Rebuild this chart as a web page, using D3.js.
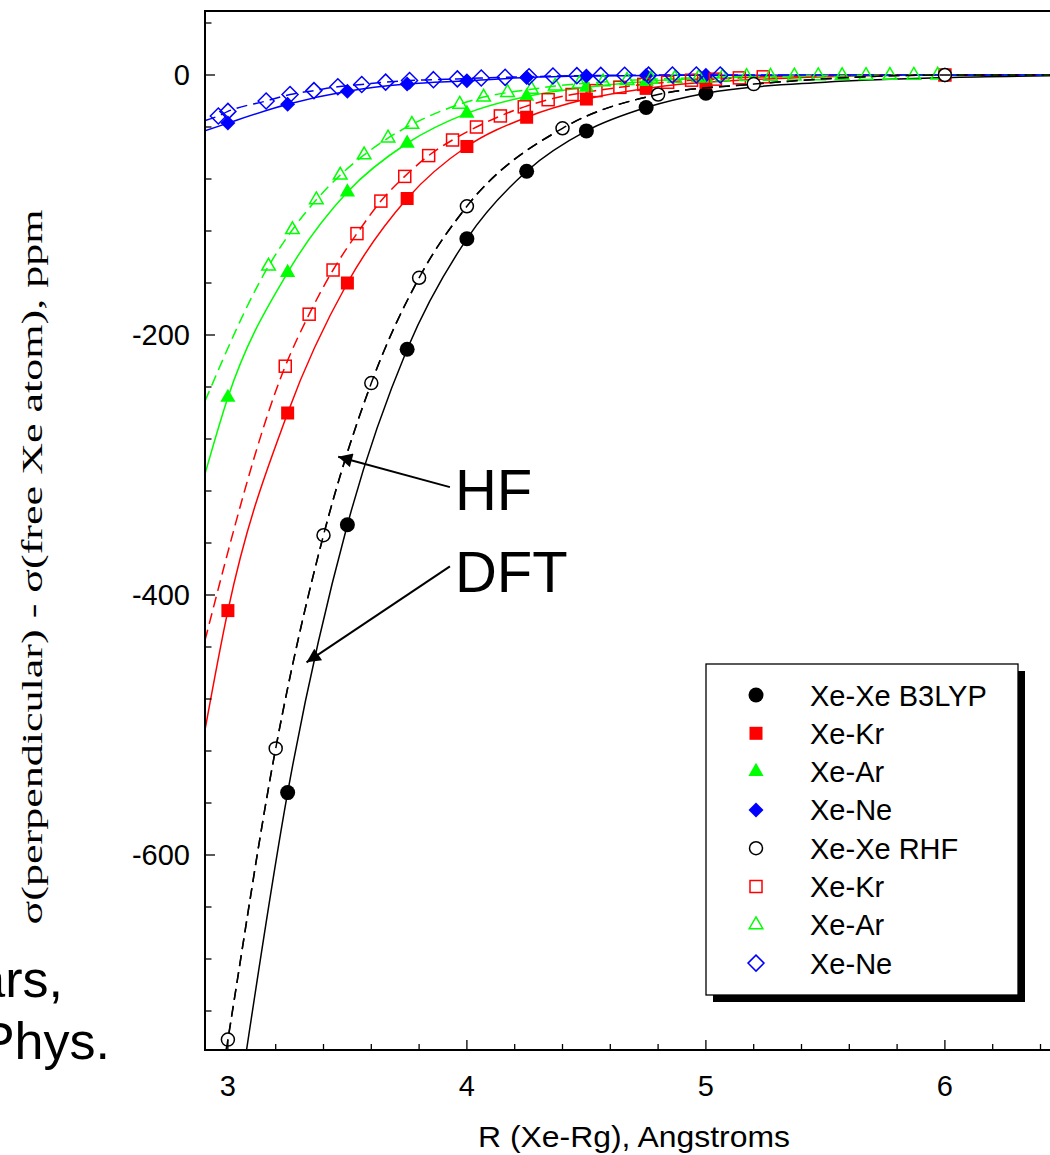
<!DOCTYPE html>
<html><head><meta charset="utf-8">
<script src="https://cdn.jsdelivr.net/npm/d3@7"></script>
<style>body{margin:0;background:#fff}svg{display:block}</style>
</head><body>
<svg id="c" width="1050" height="1155"></svg>
<script>
// ---------- data (R in Angstrom, shielding difference in ppm) ----------
const xeB3R   = [3.25, 3.5, 3.75, 4.0, 4.25, 4.5, 4.75, 5.0];
const xeB3V   = [-552, -346, -211, -126, -74, -43, -25, -14];
const krB3R   = [3.0, 3.25, 3.5, 3.75, 4.0, 4.25, 4.5, 4.75, 5.0];
const krB3V   = [-412, -260, -160, -95, -55, -32.5, -18.5, -10.3, -5.5];
const arB3R   = [3.0, 3.25, 3.5, 3.75, 4.0, 4.25, 4.5, 4.75, 5.0];
const arB3V   = [-248, -152, -90, -52.5, -29.5, -16.5, -9.5, -5, -2.5];
const neB3R   = [3.0, 3.25, 3.5, 3.75, 4.0, 4.25, 4.5, 4.75, 5.0, 6.0];
const neB3V   = [-37, -22.5, -12.5, -7, -4.5, -2, -0.8, -0.4, -0.2, 0];

const xeHFR   = [3.0, 3.2, 3.4, 3.6, 3.8, 4.0, 4.4, 4.8, 5.2, 6.0];
const xeHFV   = [-742, -518, -354, -237, -156, -101, -41, -15, -7, 0];
const krHFR   = [3.24, 3.34, 3.44, 3.54, 3.64, 3.74, 3.84, 3.94, 4.04, 4.14, 4.24, 4.34, 4.44, 4.54, 4.64, 4.74, 4.84, 4.94, 5.04, 5.14, 5.24, 6.0];
const krHFV   = [-224, -184, -150, -122, -97, -78, -62, -50, -40, -31.5, -24.5, -19, -15, -12, -9.5, -7.2, -5.6, -4, -3.2, -2.2, -1.4, 0];
const arHFR   = [3.17, 3.27, 3.37, 3.47, 3.57, 3.67, 3.77, 3.97, 4.07, 4.17, 4.27, 4.37, 4.47, 4.57, 4.67, 4.77, 4.87, 4.97, 5.07, 5.17, 5.27, 5.37, 5.47, 5.57, 5.67, 5.77, 5.87, 5.97];
const arHFV   = [-147, -119, -96, -77, -61.5, -48.5, -38, -22.5, -17, -13.5, -11, -8.5, -6.8, -5.3, -4.2, -3.3, -2.6, -2, -1.5, -1.2, -1, -0.8, -0.6, -0.5, -0.4, -0.3, -0.2, -0.1];
const neHFR   = [2.96, 3.0, 3.16, 3.26, 3.36, 3.46, 3.56, 3.66, 3.76, 3.86, 3.96, 4.06, 4.16, 4.26, 4.36, 4.46, 4.56, 4.66, 4.76, 4.86, 4.96, 5.06];
const neHFV   = [-31.5, -28, -20, -15, -12, -9, -7.3, -5.5, -4.3, -3.6, -3, -2.3, -1.8, -1.3, -0.8, -0.5, -0.3, -0.2, -0.1, 0, 0, 0];

// fitted-curve end pieces (left edge start, right tail)
const xeB3Start = [[3.078, -750]], xeB3Tail = [[5.5, -5.5], [6.0, -2], [6.5, -0.5]];
const krB3Start = [[2.904, -504]], krB3Tail = [[6.0, 0], [6.5, 0]];
const arB3Start = [[2.904, -307]], arB3Tail = [[6.0, 0], [6.5, 0]];
const neB3Start = [[2.904, -43]],  neB3Tail = [[6.5, 0]];
const xeHFStart = [[2.993, -750]], xeHFTail = [[6.5, 0]];
const krHFStart = [[2.904, -435]], krHFTail = [[6.5, 0]];
const arHFStart = [[2.904, -251]], arHFTail = [[6.5, 0]];
const neHFStart = [[2.904, -35]],  neHFTail = [[6.5, 0]];

const xMajor = [3, 4, 5, 6];
const yMajor = [0, -200, -400, -600];
const xTitle = "R (Xe-Rg), Angstroms";
const yTitle = "σ(perpendicular) - σ(free Xe atom), ppm";
const legendLabels = ["Xe-Xe B3LYP", "Xe-Kr", "Xe-Ar", "Xe-Ne", "Xe-Xe RHF", "Xe-Kr", "Xe-Ar", "Xe-Ne"];
// annotations: [label, tail R, tail ppm, tip R, tip ppm, text R, text ppm]
const annotations = [
  ["HF", 3.929, -317, 3.4615, -293.6, 3.95, -334.6],
  ["DFT", 3.929, -378, 3.329, -451.8, 3.95, -397.7]
];
const sideText = ["ars,", "Phys."];

// ---------- drawing ----------
const svg = d3.select("#c");
const x = d3.scaleLinear().domain([2.9, 6.5]).range([204, 1064.4]);
const y = d3.scaleLinear().domain([-750, 50]).range([1050, 10]);
const SANS = "'Liberation Sans', Arial, sans-serif";
const SERIF = "'Liberation Serif', 'Times New Roman', serif";

const RED = "#ff0000", GREEN = "#00ff00", BLUE = "#0000ff", BLACK = "#000";

const series = [
  {R: xeB3R, V: xeB3V, s: xeB3Start, t: xeB3Tail, color: BLACK, dash: null, shape: "circle", fill: true},
  {R: krB3R, V: krB3V, s: krB3Start, t: krB3Tail, color: RED, dash: null, shape: "square", fill: true},
  {R: arB3R, V: arB3V, s: arB3Start, t: arB3Tail, color: GREEN, dash: null, shape: "triangle", fill: true},
  {R: neB3R, V: neB3V, s: neB3Start, t: neB3Tail, color: BLUE, dash: null, shape: "diamond", fill: true},
  {R: xeHFR, V: xeHFV, s: xeHFStart, t: xeHFTail, color: BLACK, dash: "11,6", shape: "circle", fill: false},
  {R: krHFR, V: krHFV, s: krHFStart, t: krHFTail, color: RED, dash: "11,6", shape: "square", fill: false},
  {R: arHFR, V: arHFV, s: arHFStart, t: arHFTail, color: GREEN, dash: "11,6", shape: "triangle", fill: false},
  {R: neHFR, V: neHFV, s: neHFStart, t: neHFTail, color: BLUE, dash: "11,6", shape: "diamond", fill: false}
];

svg.append("defs").append("clipPath").attr("id", "plot")
  .append("rect").attr("x", 205).attr("y", 11).attr("width", 900).attr("height", 1038);

const plot = svg.append("g").attr("clip-path", "url(#plot)");
const line = d3.line().x(d => x(d[0])).y(d => y(d[1])).curve(d3.curveMonotoneX);
const linePts = s => s.s.concat(s.R.map((r, i) => [r, s.V[i]])).concat(s.t);

series.forEach(s => {
  plot.append("path").attr("d", line(linePts(s))).attr("fill", "none")
    .attr("stroke", s.color).attr("stroke-width", 1.5)
    .attr("stroke-dasharray", s.dash);
});

function marker(g, shape, filled, color) {
  let p;
  if (shape === "circle") {
    p = g.append("circle").attr("r", filled ? 7.5 : 6.5);
  } else if (shape === "square") {
    const h = filled ? 6.5 : 6;
    p = g.append("rect").attr("x", -h).attr("y", -h).attr("width", 2 * h).attr("height", 2 * h);
  } else if (shape === "triangle") {
    p = g.append("path").attr("d", d3.symbol().type(d3.symbolTriangle).size(filled ? 100 : 80)());
  } else {
    const h = filled ? 7.5 : 8;
    p = g.append("path").attr("d", `M0,${-h}L${h},0L0,${h}L${-h},0Z`);
  }
  if (filled) p.attr("fill", color).attr("stroke", "none");
  else p.attr("fill", shape === "circle" ? "#fff" : "none").attr("stroke", color).attr("stroke-width", 1.5);
}

const order = [0, 1, 2, 3, 5, 6, 7, 4];
order.forEach(k => {
  const s = series[k];
  s.R.forEach((r, i) => {
    const g = plot.append("g").attr("transform", `translate(${x(r)},${y(s.V[i])})`);
    marker(g, s.shape, s.fill, s.color);
  });
});
// the RHF Xe-Xe dashed curve shows through its own open circles
plot.append("path").attr("d", line(linePts(series[4]))).attr("fill", "none")
  .attr("stroke", BLACK).attr("stroke-width", 1.5).attr("stroke-dasharray", series[4].dash);

// frame
svg.append("rect").attr("x", 205).attr("y", 11).attr("width", 900).attr("height", 1039)
  .attr("fill", "none").attr("stroke", "#000").attr("stroke-width", 2);

// ticks (inward)
const axes = svg.append("g").attr("stroke", "#000").attr("stroke-width", 1.3);
d3.range(3.0, 6.45, 0.2).forEach(v => {
  const major = xMajor.some(m => Math.abs(m - v) < 1e-6);
  axes.append("line").attr("x1", x(v)).attr("x2", x(v)).attr("y1", 1050).attr("y2", 1050 - (major ? 10 : 6));
});
d3.range(-720, 41, 40).forEach(v => {
  const major = yMajor.includes(v);
  axes.append("line").attr("y1", y(v)).attr("y2", y(v)).attr("x1", 205).attr("x2", 205 + (major ? 10 : 6.5));
});

// tick labels
svg.append("g").selectAll("text").data(xMajor).join("text")
  .attr("x", d => x(d)).attr("y", 1096).attr("text-anchor", "middle")
  .attr("font-family", SANS).attr("font-size", 29).text(d => d);
svg.append("g").selectAll("text").data(yMajor).join("text")
  .attr("x", 190).attr("y", d => y(d) + 10).attr("text-anchor", "end")
  .attr("font-family", SANS).attr("font-size", 29).text(d => d);

// axis titles
svg.append("text").attr("x", 634).attr("y", 1147).attr("text-anchor", "middle")
  .attr("font-family", SANS).attr("font-size", 30)
  .attr("textLength", 312).attr("lengthAdjust", "spacingAndGlyphs").text(xTitle);
svg.append("text").attr("transform", "translate(42,567) rotate(-90)").attr("text-anchor", "middle")
  .attr("font-family", SERIF).attr("font-size", 30)
  .attr("textLength", 715).attr("lengthAdjust", "spacingAndGlyphs").text(yTitle);

// annotations
svg.append("defs").append("marker").attr("id", "ah").attr("viewBox", "0 0 10 10")
  .attr("refX", 10).attr("refY", 5).attr("markerWidth", 16).attr("markerHeight", 14)
  .attr("markerUnits", "userSpaceOnUse").attr("orient", "auto")
  .append("path").attr("d", "M0,0L10,5L0,10Z").attr("fill", "#000");
annotations.forEach(a => {
  svg.append("line").attr("x1", x(a[1])).attr("y1", y(a[2])).attr("x2", x(a[3])).attr("y2", y(a[4]))
    .attr("stroke", "#000").attr("stroke-width", 2).attr("marker-end", "url(#ah)");
  svg.append("text").attr("x", x(a[5])).attr("y", y(a[6])).attr("font-family", SANS)
    .attr("font-size", 58).text(a[0]);
});

// side text fragments (cut off at the left edge, as in the reference)
svg.append("text").attr("x", 63).attr("y", 997).attr("text-anchor", "end")
  .attr("font-family", SANS).attr("font-size", 52).text(sideText[0]);
svg.append("text").attr("x", 110).attr("y", 1059).attr("text-anchor", "end")
  .attr("font-family", SANS).attr("font-size", 52).text(sideText[1]);

// legend
const lg = svg.append("g");
lg.append("rect").attr("x", 713).attr("y", 671).attr("width", 312).attr("height", 331).attr("fill", "#000");
lg.append("rect").attr("x", 706).attr("y", 664).attr("width", 312).attr("height", 331)
  .attr("fill", "#fff").attr("stroke", "#000").attr("stroke-width", 1.3);
legendLabels.forEach((lab, i) => {
  const cy = 695 + i * 38.3;
  const s = series[i];
  const g = lg.append("g").attr("transform", `translate(756,${cy})`);
  marker(g, s.shape, s.fill, s.color);
  lg.append("text").attr("x", 810).attr("y", cy + 10.5).attr("font-family", SANS)
    .attr("font-size", 29).text(lab);
});
</script>
</body></html>
